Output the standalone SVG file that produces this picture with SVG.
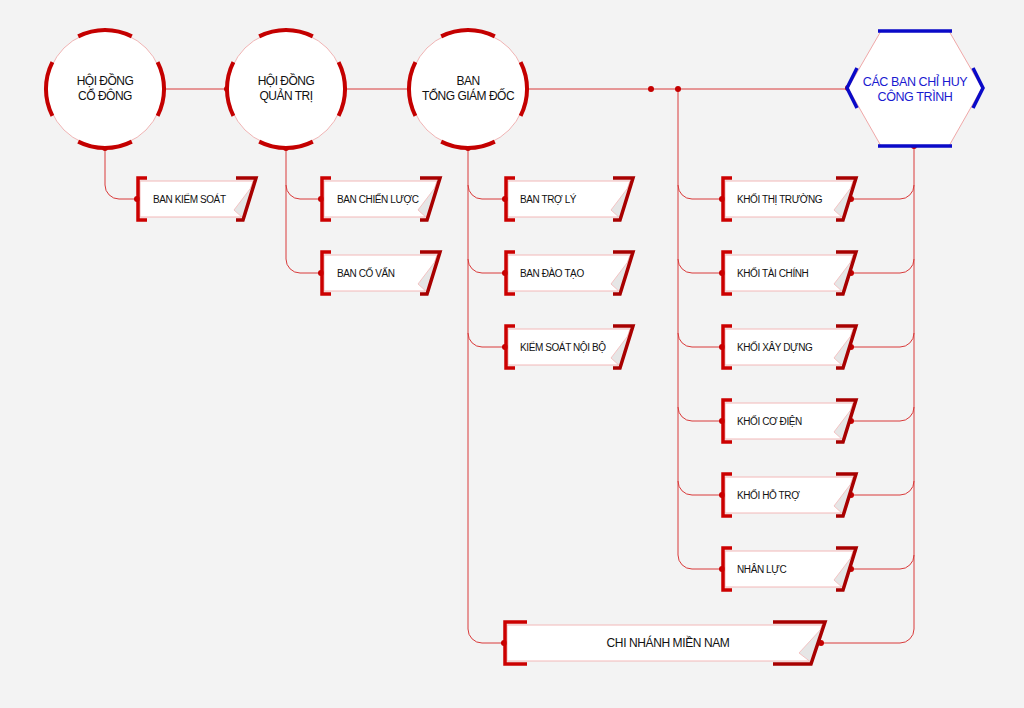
<svg xmlns="http://www.w3.org/2000/svg" xmlns:xlink="http://www.w3.org/1999/xlink" width="1024" height="708" viewBox="0 0 1024 708">
<style>
.bg{fill:#f3f3f3}
.ln{fill:none;stroke:#d93a3a;stroke-width:1}
.dot{fill:#c40000}
.thin{fill:#fff;stroke:#f0b4b4;stroke-width:1}
.arc{fill:none;stroke:#c40000;stroke-width:4}
.body{fill:#fff;stroke:#f2b8b8;stroke-width:1}
.lb{fill:none;stroke:#cc0000;stroke-width:3.5}
.rb{fill:none;stroke:#a80000;stroke-width:3.5;stroke-linejoin:miter}
.fold{fill:#e6e6e6;stroke:#f2b8b8;stroke-width:0.8}
.ct{font-family:"Liberation Sans","DejaVu Sans",sans-serif;font-size:12px;letter-spacing:-0.5px;fill:#111;text-anchor:middle}
.bt{font-family:"Liberation Sans","DejaVu Sans",sans-serif;font-size:10px;letter-spacing:-0.4px;fill:#111}
.ht{font-family:"Liberation Sans","DejaVu Sans",sans-serif;font-size:12.5px;letter-spacing:-0.4px;fill:#1a1ad0;text-anchor:middle}
.blue{fill:none;stroke:#0a0ac8;stroke-width:3.5}
</style>
<defs>
<g id="ring">
<circle r="58" class="thin"/>
<path class="arc" d="M-26.8,-52.6 A59 59 0 0 1 26.8,-52.6 M52.6,-26.8 A59 59 0 0 1 52.6,26.8 M26.8,52.6 A59 59 0 0 1 -26.8,52.6 M-52.6,26.8 A59 59 0 0 1 -52.6,-26.8"/>
</g>
<g id="box127">
<polygon class="body" points="2,3 124,3 112,39 2,39"/>
<polygon class="fold" points="105,32 124,7 115,41"/>
<path class="lb" d="M9,0 H0 V42 H9"/>
<path class="rb" d="M107,0 H127 L114,42 H107"/>
</g>
<g id="box118">
<polygon class="body" points="2,3 115,3 103,39 2,39"/>
<polygon class="fold" points="96,32 115,7 106,41"/>
<path class="lb" d="M9,0 H0 V42 H9"/>
<path class="rb" d="M98,0 H118 L105,42 H98"/>
</g>
<g id="box133">
<polygon class="body" points="2,3 130,3 118,39 2,39"/>
<polygon class="fold" points="111,32 130,7 121,41"/>
<path class="lb" d="M9,0 H0 V42 H9"/>
<path class="rb" d="M113,0 H133 L120,42 H113"/>
</g>
</defs>
<rect class="bg" width="1024" height="708"/>

<g id="connectors">
<path class="ln" d="M163,89 H227 M344,89 H410 M526,89 H848"/>
<path class="ln" d="M105,148 V185 A14 14 0 0 0 119,199 H136"/>
<path class="ln" d="M286,148 V259 A14 14 0 0 0 300,273 H320 M286,185 A14 14 0 0 0 300,199 H320"/>
<path class="ln" d="M468,148 V629 A14 14 0 0 0 482,643 H503 M468,185 A14 14 0 0 0 482,199 H504 M468,259 A14 14 0 0 0 482,273 H504 M468,333 A14 14 0 0 0 482,347 H504"/>
<path class="ln" d="M678,89 V555 A14 14 0 0 0 692,569 H721 M678,185 A14 14 0 0 0 692,199 H721 M678,259 A14 14 0 0 0 692,273 H721 M678,333 A14 14 0 0 0 692,347 H721 M678,407 A14 14 0 0 0 692,421 H721 M678,481 A14 14 0 0 0 692,495 H721"/>
<path class="ln" d="M914,146 V629 A14 14 0 0 1 900,643 H822 M914,185 A14 14 0 0 1 900,199 H851 M914,259 A14 14 0 0 1 900,273 H851 M914,333 A14 14 0 0 1 900,347 H851 M914,407 A14 14 0 0 1 900,421 H851 M914,481 A14 14 0 0 1 900,495 H851 M914,555 A14 14 0 0 1 900,569 H851"/>
<g class="dot">
<circle cx="163" cy="89" r="3"/><circle cx="227" cy="89" r="3"/><circle cx="344" cy="89" r="3"/><circle cx="410" cy="89" r="3"/>
<circle cx="651" cy="89" r="3"/><circle cx="678" cy="89" r="3"/><circle cx="848" cy="88" r="3"/>
<circle cx="105" cy="148" r="3"/><circle cx="286" cy="148" r="3"/><circle cx="468" cy="148" r="3"/><circle cx="914" cy="146" r="3"/>
<circle cx="137" cy="199" r="3"/><circle cx="321" cy="199" r="3"/><circle cx="321" cy="273" r="3"/>
<circle cx="505" cy="199" r="3"/><circle cx="505" cy="273" r="3"/><circle cx="505" cy="347" r="3"/>
<circle cx="722" cy="199" r="3"/><circle cx="722" cy="273" r="3"/><circle cx="722" cy="347" r="3"/><circle cx="722" cy="421" r="3"/><circle cx="722" cy="495" r="3"/><circle cx="722" cy="569" r="3"/>
<circle cx="851" cy="199" r="3"/><circle cx="851" cy="273" r="3"/><circle cx="851" cy="347" r="3"/><circle cx="851" cy="421" r="3"/><circle cx="851" cy="495" r="3"/><circle cx="851" cy="569" r="3"/>
<circle cx="504" cy="643" r="3"/><circle cx="821" cy="643" r="3"/>
</g>
</g>

<g id="hd-co-dong">
<use xlink:href="#ring" x="105" y="89"/>
<text class="ct" x="105" y="85">HỘI ĐỒNG</text>
<text class="ct" x="105" y="100">CỔ ĐÔNG</text>
</g>
<g id="hd-quan-tri">
<use xlink:href="#ring" x="286" y="89"/>
<text class="ct" x="286" y="85">HỘI ĐỒNG</text>
<text class="ct" x="286" y="100">QUẢN TRỊ</text>
</g>
<g id="ban-tgd">
<use xlink:href="#ring" x="468" y="89"/>
<text class="ct" x="468" y="85">BAN</text>
<text class="ct" x="468" y="100">TỔNG GIÁM ĐỐC</text>
</g>
<g id="ban-chi-huy">
<polygon points="848,88 881,31 949,31 982,88 949,146 881,146" fill="#fff" stroke="#f0a8a8" stroke-width="1"/>
<path class="blue" d="M878,31 H952 M878,146 H952 M857,68 L847,88 L857,108 M973,68 L983,88 L973,108"/>
<text class="ht" x="915" y="86">CÁC BAN CHỈ HUY</text>
<text class="ht" x="915" y="101">CÔNG TRÌNH</text>
</g>

<g id="ban-kiem-soat"><use xlink:href="#box118" x="138" y="178"/><text class="bt" x="153" y="203">BAN KIỂM SOÁT</text></g>
<g id="ban-chien-luoc"><use xlink:href="#box118" x="322" y="178"/><text class="bt" x="337" y="203">BAN CHIẾN LƯỢC</text></g>
<g id="ban-co-van"><use xlink:href="#box118" x="322" y="252"/><text class="bt" x="337" y="277">BAN CỐ VẤN</text></g>

<g id="ban-tro-ly"><use xlink:href="#box127" x="506" y="178"/><text class="bt" x="520" y="203">BAN TRỢ LÝ</text></g>
<g id="ban-dao-tao"><use xlink:href="#box127" x="506" y="252"/><text class="bt" x="520" y="277">BAN ĐÀO TẠO</text></g>
<g id="kiem-soat-noi-bo"><use xlink:href="#box127" x="506" y="326"/><text class="bt" x="520" y="351">KIỂM SOÁT NỘI BỘ</text></g>

<g id="khoi-thi-truong"><use xlink:href="#box133" x="723" y="178"/><text class="bt" x="737" y="203">KHỐI THỊ TRƯỜNG</text></g>
<g id="khoi-tai-chinh"><use xlink:href="#box133" x="723" y="252"/><text class="bt" x="737" y="277">KHỐI TÀI CHÍNH</text></g>
<g id="khoi-xay-dung"><use xlink:href="#box133" x="723" y="326"/><text class="bt" x="737" y="351">KHỐI XÂY DỰNG</text></g>
<g id="khoi-co-dien"><use xlink:href="#box133" x="723" y="400"/><text class="bt" x="737" y="425">KHỐI CƠ ĐIỆN</text></g>
<g id="khoi-ho-tro"><use xlink:href="#box133" x="723" y="474"/><text class="bt" x="737" y="499">KHỐI HỖ TRỢ</text></g>
<g id="nhan-luc"><use xlink:href="#box133" x="723" y="548"/><text class="bt" x="737" y="573">NHÂN LỰC</text></g>

<g id="chi-nhanh-mien-nam">
<polygon class="body" points="507,625 822,625 810,661 507,661"/>
<polygon class="fold" points="799,653 822,628 812,663"/>
<path class="lb" d="M527,622 H505 V664 H527"/>
<path class="rb" d="M773,622 H825 L811,664 H773"/>
<text class="ct" x="668" y="647" style="font-size:12px;letter-spacing:-0.4px">CHI NHÁNH MIỀN NAM</text>
</g>
</svg>
